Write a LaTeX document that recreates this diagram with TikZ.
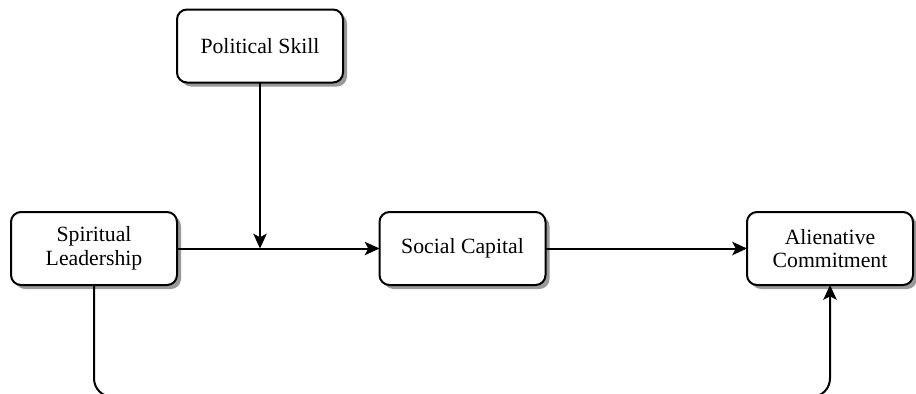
\documentclass[tikz,border=0pt]{standalone}
\usepackage{fontspec}
\setmainfont{Liberation Serif}
\usetikzlibrary{arrows.meta,shadows}
\begin{document}
\begin{tikzpicture}[x=0.75pt,y=-0.75pt,
  box/.style={draw, line width=1.5pt, rounded corners=7.5pt, fill=white,
    minimum width=124.5pt, minimum height=54.75pt, align=center,
    font=\fontsize{16.3pt}{17.6pt}\selectfont, inner sep=0pt, outer sep=0pt,
    drop shadow={shadow xshift=3pt, shadow yshift=-3pt, fill=black!40, opacity=1}},
  conn/.style={line width=1.5pt, -{Stealth[length=11pt,width=10pt,inset=2.5pt]}}]
\useasboundingbox (0,0) rectangle (916,393);
\clip (0,0) rectangle (916,393);
\node[box] (ps) at (260,46) {Political Skill};
\node[box] (sl) at (94,248.5) {Spiritual\\Leadership};
\node[box] (sc) at (462.5,248.5) {Social Capital};
\node[box] (ac) at (830,248.5) {Alienative\\Commitment};
\coordinate (m) at (ps.south |- sl.east);
\coordinate (b1) at (94,397);
\draw[conn] (sl.east) -- (sc.west);
\draw[conn] (ps.south) -- (m);
\draw[conn] (sc.east) -- (ac.west);
\draw[conn, rounded corners=14pt] (sl.south) -- (sl.south |- b1) -- (ac.south |- b1) -- (ac.south);
\end{tikzpicture}
\end{document}
